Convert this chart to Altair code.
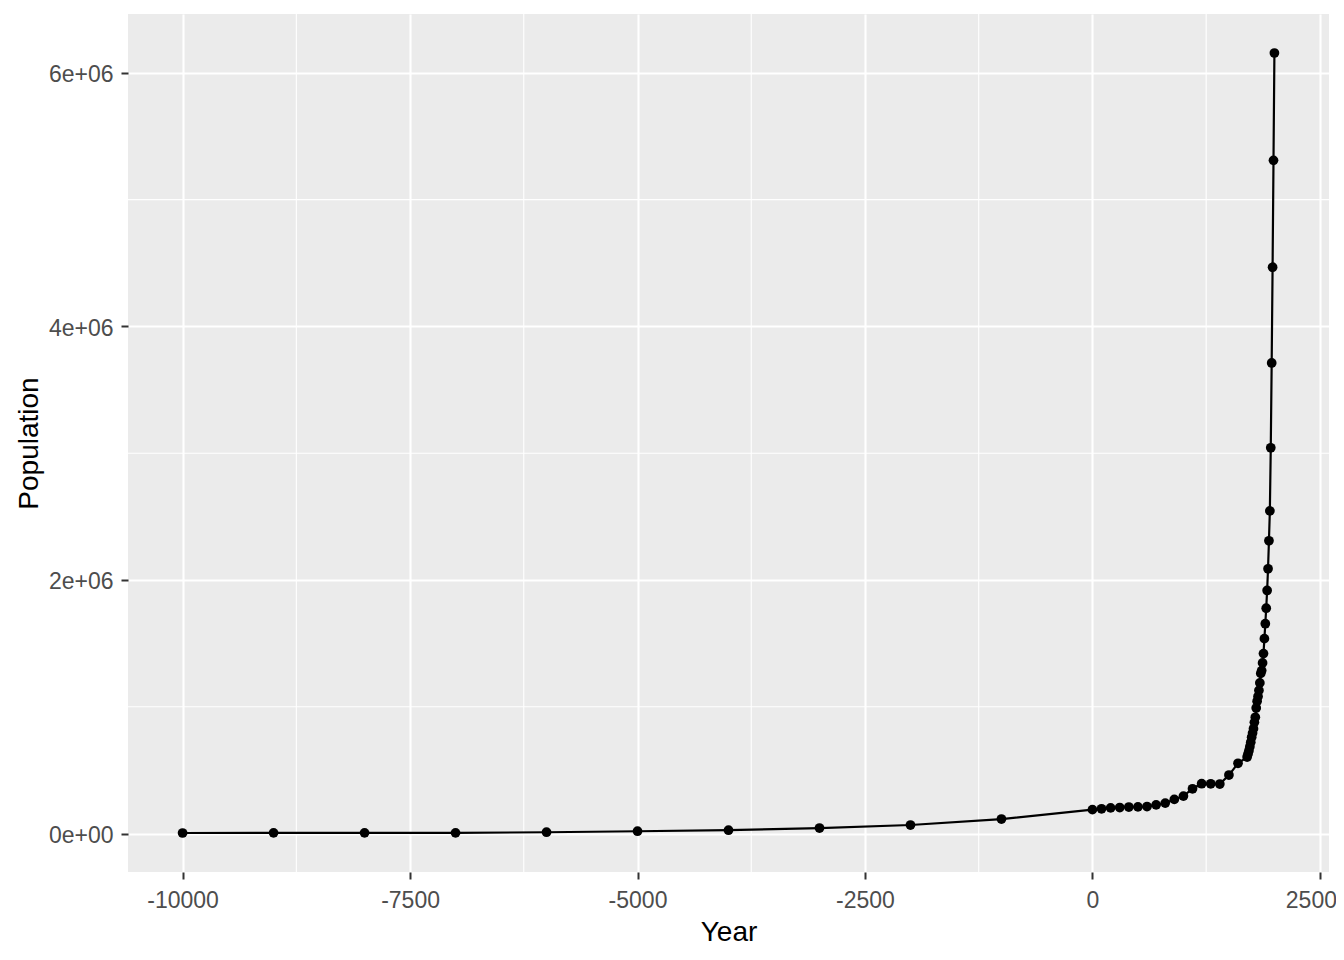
import altair as alt
import pandas as pd

# ---- data ----
years_bce = [-10000, -9000, -8000, -7000, -6000, -5000, -4000, -3000, -2000, -1000]
pop_bce = [4000, 5000, 5000, 5000, 10000, 18000, 26000, 43000, 67000, 114000]

years_cent = [0, 100, 200, 300, 400, 500, 600, 700, 800, 900, 1000,
              1100, 1200, 1300, 1400, 1500, 1600]
pop_cent = [188000, 195000, 202000, 205000, 209000, 210000, 213000, 226000,
            240000, 269000, 295000, 353000, 393000, 392000, 390000, 461000, 554000]

years_dec = [1700, 1710, 1720, 1730, 1740, 1750, 1760, 1770, 1780, 1790,
             1800, 1810, 1820, 1830, 1840, 1850, 1860, 1870, 1880, 1890,
             1900, 1910, 1920, 1930, 1940, 1950, 1960, 1970, 1980, 1990, 2000]
pop_dec = [603000, 627000, 653000, 685000, 720000, 759000, 792000, 827000, 877000, 917000,
           990000, 1043000, 1081000, 1129000, 1188000, 1263000, 1285000, 1346000, 1419000, 1537000,
           1655000, 1777000, 1917000, 2088000, 2309000, 2545000, 3043000, 3712000, 4467000, 5310000,
           6157000]

major_years = [-10000, -7500, -5000, -2500, 0, 2500]
minor_years = [-8750, -6250, -3750, -1250, 1250]
major_pops = [0, 2000000, 4000000, 6000000]
minor_pops = [1000000, 3000000, 5000000]

years = years_bce + years_cent + years_dec
population = pop_bce + pop_cent + pop_dec
df = pd.DataFrame({"Year": years, "Population": population})

# ggplot-style 5% expansion
xr = max(years) - min(years)
yr = max(population) - min(population)
xdom = [min(years) - 0.05 * xr, max(years) + 0.05 * xr]
ydom = [min(population) - 0.05 * yr, max(population) + 0.05 * yr]

W, H = 1201, 858
FONT = "Liberation Sans"

xs = alt.Scale(domain=xdom, nice=False, zero=False)
ys = alt.Scale(domain=ydom, nice=False, zero=False)

common_axis = dict(
    grid=True, gridColor="white", gridWidth=2.1,
    domain=False, tickColor="#333333", tickWidth=2, tickSize=7,
    labelFont=FONT, labelFontSize=23, labelColor="#4D4D4D",
    titleFont=FONT, titleFontSize=28, titleColor="black", titleFontWeight="normal",
    labelOverlap=False, labelFlush=False,
)

x_axis = alt.Axis(values=major_years, title="Year",
                  labelExpr="'' + datum.value", labelPadding=10,
                  labelOffset={"condition": {"test": "datum.value == 2500", "value": -9}, "value": 0},
                  titleBaseline="alphabetic", titleX=W / 2, titleY=68,
                  **common_axis)
y_axis = alt.Axis(values=major_pops, title="Population",
                  labelExpr="datum.value == 0 ? '0e+00' : format(datum.value / 1000000, 'd') + 'e+06'",
                  labelPadding=8, labelBaseline="middle", labelOffset=2,
                  titleBaseline="alphabetic", titleAlign="center", titleX=-91, titleY=H / 2,
                  **common_axis)

minor_x = alt.Chart(pd.DataFrame({"Year": minor_years})).mark_rule(
    color="white", strokeWidth=1.1
).encode(x=alt.X("Year:Q", scale=xs, axis=x_axis))

minor_y = alt.Chart(pd.DataFrame({"Population": minor_pops})).mark_rule(
    color="white", strokeWidth=1.1
).encode(y=alt.Y("Population:Q", scale=ys, axis=y_axis))

base = alt.Chart(df).encode(
    x=alt.X("Year:Q", scale=xs, axis=x_axis),
    y=alt.Y("Population:Q", scale=ys, axis=y_axis),
)
line = base.mark_line(color="black", strokeWidth=2.2)
points = base.mark_circle(color="black", opacity=1, size=95)

chart = alt.layer(minor_x, minor_y, line, points).properties(
    width=W, height=H,
    autosize=alt.AutoSizeParams(type="none"),
    padding={"left": 120, "top": 6, "right": 7, "bottom": 78},
    background="white",
).configure_view(fill="#EBEBEB", strokeWidth=0)

chart.save("out.html", embed_options={"renderer": "svg", "actions": False})
